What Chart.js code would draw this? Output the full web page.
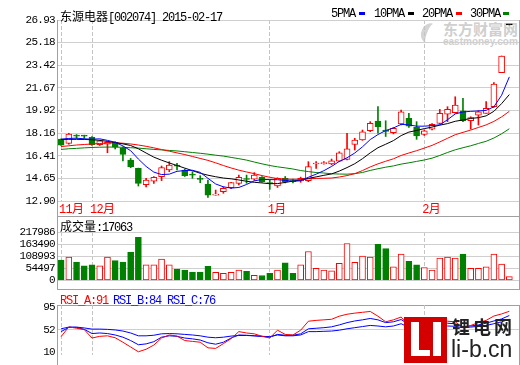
<!DOCTYPE html>
<html>
<head>
<meta charset="utf-8">
<script src="https://cdn.jsdelivr.net/npm/chart.js@4.4.1/dist/chart.umd.min.js"></script>
<style>
html, body { margin: 0; padding: 0; background: #fff; }
#wrap { position: relative; width: 520px; height: 365px; overflow: hidden; }
.cv { position: absolute; left: 0; }
.box { position: absolute; border: 1px solid #a0a0a0; box-sizing: border-box; }
.t { position: absolute; font-size: 12px; line-height: 12px; white-space: nowrap; color: #000; }
.m { font-family: "Liberation Mono", monospace; letter-spacing: -1.2px; }
.cjk { font-family: "Noto Sans CJK SC", sans-serif; }
.mk { position: absolute; width: 6px; height: 3px; }
.abs { position: absolute; white-space: nowrap; }
</style>
</head>
<body>
<div id="wrap">
  <!-- eastmoney watermark -->
  <div class="abs" style="left:421px;top:23px;width:12px;height:21px;border-left:6px solid #d4d4d4;border-radius:60% 0 0 60%;transform:rotate(22deg)"></div>
  <div class="abs cjk" style="left:443px;top:20px;font-size:15px;line-height:18px;font-weight:bold;color:#cfcfcf">东方财富网</div>
  <div class="abs" style="left:443px;top:37px;font-family:'Liberation Sans';font-size:10px;line-height:10px;font-weight:bold;color:#cfcfcf">eastmoney.com</div>

  <div class="box" style="left:57px;top:20px;width:463px;height:197px"></div>
  <div class="box" style="left:57px;top:216px;width:463px;height:74px"></div>
  <div class="box" style="left:57px;top:305px;width:463px;height:70px"></div>

  <canvas id="priceChart" class="cv" style="top:0" width="520" height="217"></canvas>
  <canvas id="volumeChart" class="cv" style="top:216px" width="520" height="74"></canvas>
  <canvas id="rsiChart" class="cv" style="top:290px" width="520" height="75"></canvas>

  <div class="t" style="left:60px;top:10px"><span class="cjk">东源电器</span><span class="m">[002074] 2015-02-17</span></div>

  <div class="t m" style="left:331px;top:8px">5PMA</div><div class="mk" style="left:359px;top:12px;background:#0000ff"></div>
  <div class="t m" style="left:374px;top:8px">10PMA</div><div class="mk" style="left:408px;top:12px;background:#000000"></div>
  <div class="t m" style="left:422px;top:8px">20PMA</div><div class="mk" style="left:456px;top:12px;background:#ff0000"></div>
  <div class="t m" style="left:470px;top:8px">30PMA</div><div class="mk" style="left:503px;top:12px;background:#008000"></div>

  <div class="t" style="left:60px;top:220px"><span class="cjk">成交量</span><span class="m">:17063</span></div>

  <div class="t m" style="left:60px;top:295px;color:#ff0000">RSI_A:91</div>
  <div class="t m" style="left:113px;top:295px;color:#0000ff">RSI_B:84</div>
  <div class="t m" style="left:167px;top:295px;color:#0000ff">RSI_C:76</div>

  <!-- li-b.cn logo -->
  <div class="abs" style="left:404px;top:317px;width:43px;height:46px;background:#d40000"></div>
  <div class="abs" style="left:411px;top:322px;width:8px;height:34px;background:#fff"></div>
  <div class="abs" style="left:411px;top:350px;width:19px;height:6px;background:#fff"></div>
  <div class="abs" style="left:433px;top:322px;width:8px;height:34px;background:#fff"></div>
  <div class="abs cjk" style="left:452px;top:315px;font-size:18px;line-height:22px;font-weight:bold;color:#222;letter-spacing:3px">锂电网</div>
  <div class="abs" style="left:451px;top:336px;font-family:'Liberation Sans';font-size:23px;line-height:26px;color:#222">li-b.cn</div>
</div>

<script>
// trading days shown
const dates = [
  '2014-11-25','2014-11-26','2014-11-27','2014-11-28',
  '2014-12-01','2014-12-02','2014-12-03','2014-12-04','2014-12-05',
  '2014-12-08','2014-12-09','2014-12-10','2014-12-11','2014-12-12',
  '2014-12-15','2014-12-16','2014-12-17','2014-12-18','2014-12-19',
  '2014-12-22','2014-12-23','2014-12-24','2014-12-25','2014-12-26',
  '2014-12-29','2014-12-30','2014-12-31',
  '2015-01-05','2015-01-06','2015-01-07','2015-01-08','2015-01-09',
  '2015-01-12','2015-01-13','2015-01-14','2015-01-15','2015-01-16',
  '2015-01-19','2015-01-20','2015-01-21','2015-01-22','2015-01-23',
  '2015-01-26','2015-01-27','2015-01-28','2015-01-29','2015-01-30',
  '2015-02-02','2015-02-03','2015-02-04','2015-02-05','2015-02-06',
  '2015-02-09','2015-02-10','2015-02-11','2015-02-12','2015-02-13',
  '2015-02-16','2015-02-17'
];

const open  = [17.70,17.37,17.97,17.96,17.84,17.26,17.30,17.44,16.98,16.08,
               15.43,14.16,14.43,14.78,15.30,15.64,15.30,14.93,14.62,14.19,
               13.36,13.62,13.93,14.27,14.60,14.60,14.74,14.28,14.06,14.66,
               14.42,14.45,14.48,15.77,15.80,15.77,15.99,16.13,17.29,17.63,
               18.35,19.10,18.40,18.20,18.87,19.31,18.61,18.07,18.46,18.92,
               19.64,19.74,19.88,19.12,19.56,19.69,20.21,22.85,26.55];
const high  = [17.72,18.15,18.05,18.00,17.90,17.62,17.50,17.50,17.10,16.20,
               15.45,14.66,14.80,15.61,15.95,15.82,15.38,15.17,14.86,14.53,
               13.75,14.00,14.35,14.91,14.91,15.10,14.80,14.53,14.70,14.80,
               14.60,14.75,15.95,15.95,15.95,16.15,16.72,18.15,17.76,18.40,
               19.05,20.21,19.12,18.60,19.95,19.69,19.05,18.40,18.90,20.00,
               20.21,20.98,20.86,19.43,19.90,20.60,22.07,24.14,26.55];
const low   = [17.20,17.30,17.75,17.75,17.20,17.20,16.64,16.93,16.00,15.48,
               14.06,14.00,14.27,14.48,15.17,15.30,14.80,14.66,14.32,13.18,
               13.35,13.50,13.85,14.14,14.27,14.50,14.35,13.80,13.95,14.30,
               14.30,14.35,14.40,15.43,15.75,15.70,15.95,16.08,16.85,17.60,
               18.27,18.15,17.90,18.10,18.80,18.60,17.68,17.98,18.40,18.87,
               19.05,19.70,19.05,18.48,18.79,19.69,20.16,22.85,26.55];
const close = [17.23,18.09,17.93,17.93,17.26,17.57,17.45,17.07,16.52,15.56,
               14.27,14.53,14.74,15.49,15.69,15.60,14.86,14.90,14.58,13.36,
               13.38,13.88,14.32,14.74,14.57,14.90,14.40,14.25,14.66,14.40,
               14.40,14.66,15.56,15.80,15.85,16.02,16.64,16.95,17.63,18.27,
               18.92,18.66,18.30,18.53,19.82,18.71,17.94,18.33,18.85,19.69,
               20.00,20.34,19.12,19.36,19.82,20.09,21.97,24.14,26.55];

const volume = [92000,105000,83000,66000,70000,66000,105000,89000,82000,128000,
                194000,70000,70000,96000,70000,51000,47000,37000,37000,63000,
                36000,32000,36000,47000,41000,23000,22000,32000,47000,79000,
                32000,70000,130000,54000,47000,43000,77000,166000,81000,109000,
                105000,162000,143000,61000,119000,86000,70000,58000,47000,100000,
                105000,100000,118000,54000,54000,61000,119000,73000,17063];

const ma5  = [17.69,17.75,17.77,17.72,17.69,17.72,17.60,17.45,17.17,16.80,
              16.15,15.58,15.14,14.95,14.98,15.20,15.26,15.28,15.12,14.66,
              14.22,14.00,13.90,13.95,14.18,14.46,14.57,14.56,14.55,14.50,
              14.43,14.47,14.74,14.98,15.25,15.58,15.97,16.25,16.62,17.10,
              17.66,18.05,18.36,18.56,18.84,18.80,18.70,18.70,18.75,18.80,
              19.20,19.65,19.80,19.85,19.88,19.92,20.20,21.10,22.52];
const ma10 = [17.67,17.68,17.68,17.67,17.65,17.60,17.52,17.43,17.33,17.20,
              16.95,16.62,16.30,16.06,15.85,15.65,15.45,15.25,15.05,14.90,
              14.78,14.68,14.62,14.53,14.43,14.35,14.30,14.24,14.25,14.34,
              14.44,14.53,14.65,14.77,14.89,15.00,15.22,15.49,15.79,16.18,
              16.63,17.03,17.30,17.58,17.97,18.24,18.37,18.51,18.63,18.78,
              18.90,19.08,19.18,19.30,19.36,19.50,19.85,20.45,21.15];
const ma20 = [17.12,17.18,17.24,17.28,17.32,17.36,17.39,17.40,17.38,17.32,
              17.24,17.14,17.02,16.89,16.76,16.63,16.50,16.35,16.20,16.05,
              15.86,15.65,15.46,15.29,15.15,15.02,14.87,14.74,14.64,14.59,
              14.58,14.59,14.62,14.65,14.66,14.68,14.76,14.87,15.02,15.26,
              15.54,15.78,15.98,16.17,16.43,16.62,16.80,17.00,17.21,17.48,
              17.76,18.04,18.22,18.40,18.60,18.80,19.07,19.42,19.85];
const ma30 = [16.90,16.95,16.98,17.02,17.05,17.07,17.08,17.08,17.06,17.03,
              17.00,16.95,16.90,16.86,16.82,16.78,16.72,16.66,16.60,16.53,
              16.45,16.38,16.28,16.18,16.07,15.92,15.78,15.65,15.55,15.47,
              15.38,15.26,15.18,15.11,15.07,15.01,14.99,14.98,15.02,15.11,
              15.27,15.40,15.52,15.62,15.76,15.86,15.97,16.08,16.22,16.43,
              16.66,16.87,17.03,17.18,17.36,17.53,17.78,18.11,18.50];

const rsiA = [38.7,57.4,54.7,52.1,36.1,39.3,40.3,36.6,28.1,19.0,
              9.9,14.7,22.7,36.1,41.9,39.8,31.3,29.7,28.1,17.4,
              16.3,25.4,35.0,48.3,45.7,44.1,39.3,36.1,51.0,43.0,
              41.9,51.0,68.1,69.7,70.7,71.8,77.7,81.4,83.5,85.1,
              86.7,77.7,67.0,70.7,76.1,59.0,44.1,53.7,61.7,67.0,
              68.1,67.0,56.3,60.0,65.4,69.7,78.0,82.0,87.0];
const rsiB = [48.3,56.3,56.3,52.6,44.6,45.7,44.6,41.9,37.7,31.3,
              23.3,24.9,29.1,37.7,40.3,39.3,36.1,34.5,32.3,27.0,
              24.3,28.1,36.1,41.9,41.4,40.3,39.3,37.7,43.0,41.4,
              41.4,44.1,53.7,54.7,55.8,57.4,61.1,65.4,68.6,70.7,
              73.4,70.7,65.4,67.0,71.3,61.7,52.6,56.3,60.6,64.3,
              64.3,63.3,57.9,59.0,61.1,64.3,68.6,72.5,79.0];
const rsiC = [53.7,56.9,56.9,55.3,53.1,53.1,52.6,51.5,49.4,45.7,
              40.3,40.3,41.4,44.1,44.6,44.1,43.0,41.9,40.3,37.7,
              36.6,37.7,39.8,40.9,40.9,40.3,39.3,38.7,41.9,40.3,
              40.3,41.9,48.3,48.3,48.9,49.4,51.0,53.7,55.8,57.9,
              60.1,59.0,57.4,59.0,63.3,56.3,51.0,53.7,56.3,59.0,
              59.0,58.5,55.8,56.9,58.5,60.1,63.3,67.0,72.0];

const priceTicks  = [12.90, 14.65, 16.41, 18.16, 19.92, 21.67, 23.42, 25.18, 26.93];
const volumeTicks = [0, 54497, 108993, 163490, 217986];
const rsiTicks    = [10, 52, 95];

// month boundaries for the x axis
const monthTicks = [];
dates.forEach((d, i) => {
  const m = d.slice(5, 7);
  if (i === 0 || m !== dates[i - 1].slice(5, 7)) monthTicks.push({ value: i, label: parseInt(m, 10) + '月' });
});

const UP = '#ff0000', DOWN = '#008000';
const candleColor = close.map((c, i) => c > open[i] ? UP : (c < open[i] ? DOWN : '#000000'));
const bodyFill = close.map((c, i) => c > open[i] ? '#ffffff' : candleColor[i]);
const volColor = close.map((c, i) => c >= open[i] ? UP : DOWN);
const volFill = close.map((c, i) => c >= open[i] ? '#ffffff' : DOWN);

const pts = arr => arr.map((v, i) => ({ x: i, y: v }));
const GRID = '#cfcfcf';
const TICK_FONT = { family: 'Liberation Mono', size: 11 };

const tightText = {
  id: 'tightText',
  beforeDraw(chart) { chart.ctx.letterSpacing = '-0.7px'; }
};

function xAxis(showLabels) {
  return {
    type: 'linear',
    min: -0.4,
    max: 59.25,
    offset: false,
    bounds: 'data',
    afterBuildTicks: s => { s.ticks = monthTicks.map(t => ({ value: t.value })); },
    afterFit: s => { s.height = showLabels ? 16 : 0; },
    ticks: {
      display: showLabels,
      autoSkip: false,
      maxRotation: 0,
      align: 'start',
      labelOffset: -2,
      padding: 2,
      color: '#ff0000',
      font: { family: 'Liberation Mono, Noto Sans CJK SC', size: 12 },
      callback: v => { const t = monthTicks.find(m => m.value === v); return t ? t.label : ''; }
    },
    grid: { color: '#c4c4c4', drawTicks: false, offset: false, borderDash: [4, 2] },
    border: { display: false, dash: [4, 2] }
  };
}

function yAxis(min, max, ticks, fmt, gridColor) {
  return {
    min: min,
    max: max,
    afterBuildTicks: s => { s.ticks = ticks.map(v => ({ value: v })); },
    afterFit: s => { s.width = 58; },
    ticks: { autoSkip: false, padding: 3, color: '#000', font: TICK_FONT, callback: fmt },
    grid: { color: gridColor, drawTicks: false },
    border: { display: false }
  };
}

const common = {
  responsive: false,
  animation: false,
  events: [],
  plugins: { legend: { display: false }, tooltip: { enabled: false } }
};

// price panel: candles + moving averages
new Chart(document.getElementById('priceChart').getContext('2d'), {
  type: 'bar',
  data: {
    datasets: [
      { type: 'line', data: pts(ma5),  borderColor: '#0000ff', borderWidth: 1, pointRadius: 0, order: 0 },
      { type: 'line', data: pts(ma10), borderColor: '#000000', borderWidth: 1, pointRadius: 0, order: 0 },
      { type: 'line', data: pts(ma20), borderColor: '#ff0000', borderWidth: 1, pointRadius: 0, order: 0 },
      { type: 'line', data: pts(ma30), borderColor: '#008000', borderWidth: 1, pointRadius: 0, order: 0 },
      {
        data: open.map((o, i) => ({ x: i, y: [o, close[i]] })),
        backgroundColor: bodyFill, borderColor: candleColor, borderWidth: 1,
        borderSkipped: false, barThickness: 6, minBarLength: 1, grouped: false, order: 1
      },
      {
        data: low.map((l, i) => ({ x: i, y: [l, high[i]] })),
        backgroundColor: candleColor, borderWidth: 0,
        barThickness: 1, grouped: false, order: 2
      }
    ]
  },
  options: Object.assign({}, common, {
    layout: { padding: { top: 20, right: 1, left: 0, bottom: 0 } },
    scales: {
      x: xAxis(true),
      y: yAxis(12.90, 26.93, priceTicks, v => v.toFixed(2), GRID)
    }
  }),
  plugins: [tightText]
});

// volume panel
new Chart(document.getElementById('volumeChart').getContext('2d'), {
  type: 'bar',
  data: {
    datasets: [{
      data: pts(volume),
      backgroundColor: volFill, borderColor: volColor, borderWidth: 1,
      borderSkipped: false, barThickness: 6, grouped: false
    }]
  },
  options: Object.assign({}, common, {
    layout: { padding: { top: 16, right: 1, left: 0, bottom: 2 } },
    scales: {
      x: xAxis(false),
      y: yAxis(0, 217986, volumeTicks, v => String(v), GRID)
    }
  }),
  plugins: [tightText]
});

// RSI panel
new Chart(document.getElementById('rsiChart').getContext('2d'), {
  type: 'line',
  data: {
    datasets: [
      { data: pts(rsiA), borderColor: '#ff0000', borderWidth: 1, pointRadius: 0 },
      { data: pts(rsiB), borderColor: '#0000ff', borderWidth: 1, pointRadius: 0 },
      { data: pts(rsiC), borderColor: '#0000ff', borderWidth: 1, pointRadius: 0 }
    ]
  },
  options: Object.assign({}, common, {
    layout: { padding: { top: 15, right: 1, left: 0, bottom: 0 } },
    scales: {
      x: xAxis(false),
      y: yAxis(3, 99, rsiTicks, v => String(v), c => (c.tick && c.tick.value === 52) ? GRID : 'rgba(0,0,0,0)')
    }
  }),
  plugins: [tightText]
});
</script>
</body>
</html>
